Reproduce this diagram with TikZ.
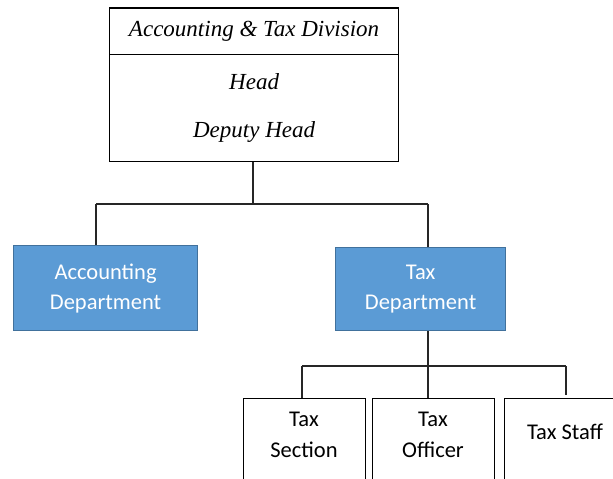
\documentclass[tikz,border=0pt]{standalone}
\usepackage{fontspec}
\setmainfont{Liberation Serif}
\newfontfamily\calib{Carlito}
\definecolor{deptfill}{HTML}{5B9BD5}
\definecolor{deptborder}{HTML}{41719C}
\definecolor{linec}{HTML}{262626}
\begin{document}
\begin{tikzpicture}[x=1pt,y=-1pt,
  box/.style={draw=black, line width=1.2pt, inner sep=0pt, anchor=north west},
  dept/.style={draw=deptborder, line width=1.2pt, fill=deptfill, text=white, font=\calib\fontsize{22.5}{30}\selectfont, align=center, inner sep=0pt, anchor=north west},
  staffbox/.style={draw=black, line width=1.2pt, inner sep=0pt, anchor=north west, minimum width=122pt, minimum height=110pt},
  stafftext/.style={font=\calib\fontsize{22.5}{31}\selectfont, align=center, inner sep=0pt},
  conn/.style={draw=linec, line width=1.3pt}]
\useasboundingbox (0,0) rectangle (613,479);
\clip (0,0) rectangle (613,479);
\fill[white] (0,0) rectangle (613,479);
% top division box
\node[box, minimum width=289pt, minimum height=46pt, font=\itshape\fontsize{23}{26}\selectfont] (div) at (109,8) {Accounting \& Tax Division};
\node[box, minimum width=289pt, minimum height=107pt, align=center, font=\itshape\fontsize{23}{48}\selectfont] (head) at (109,54) {Head\\Deputy Head};
\draw[line width=2.4pt] (div.north west) -- (div.north east);
% departments
\node[dept, minimum width=184pt, minimum height=85pt] (acc) at (13,245) {Accounting\\Department};
\node[dept, minimum width=170pt, minimum height=83pt] (tax) at (335,247) {Tax\\Department};
% bottom boxes
\node[staffbox] (sec) at (243,398) {};
\node[staffbox] (off) at (372,398) {};
\node[staffbox, minimum width=130pt] (stf) at (504,398) {};
\node[stafftext] (sect) at (304,435) {Tax\\Section};
\node[stafftext] (offt) at (433,435) {Tax\\Officer};
\node[stafftext] (stft) at (565,432) {Tax Staff};
% connectors level 1
\coordinate (j1) at (253,204);
\coordinate (aL) at (96,204);
\coordinate (tR) at (428,204);
\draw[conn] (j1 |- head.south) -- (j1);
\draw[conn] (aL) -- (tR);
\draw[conn] (aL) -- (aL |- acc.north);
\draw[conn] (tR) -- (tR |- tax.north);
% connectors level 2
\coordinate (j2) at (428,366);
\coordinate (sL) at (302,366);
\coordinate (sR) at (566,366);
\draw[conn] (j2 |- tax.south) -- (j2 |- off.north);
\draw[conn] (sL) -- (sR);
\draw[conn] (sL) -- (sL |- sec.north);
\draw[conn] (sR) -- (566,395);
\end{tikzpicture}
\end{document}
